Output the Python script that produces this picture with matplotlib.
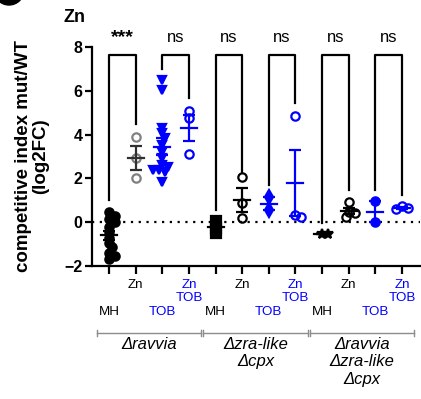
import numpy as np
import matplotlib
matplotlib.use("Agg")
import matplotlib.pyplot as plt
import matplotlib.patches as mpatches
import matplotlib.transforms as mtransforms

plt.rcParams["font.family"] = ["Liberation Sans", "DejaVu Sans"]

# DATA (log2FC mut/WT)

conditions = ["MH", "Zn", "TOB", "Zn\nTOB"] * 3
strains = ["Δravvia", "Δzra-like\nΔcpx", "Δravvia\nΔzra-like\nΔcpx"]

values = [
    [0.45, 0.3, 0.15, 0.0, -0.2, -0.45, -0.7, -0.95, -1.15, -1.4, -1.55, -1.7],
    [3.88, 2.92, 2.0],
    [6.48, 6.03, 4.29, 4.06, 3.84, 3.52, 3.2, 2.92, 2.6, 2.5, 2.4, 2.37, 2.28, 1.83],
    [5.07, 4.75, 3.1],
    [0.05, -0.25, -0.5],
    [2.05, 0.87, 0.18],
    [1.14, 0.55],
    [4.84, 0.32, 0.23],
    [-0.52, -0.55],
    [0.9, 0.45, 0.4, 0.25],
    [0.96, 0.0],
    [0.75, 0.64, 0.6],
]

pairs = [(0, 1), (2, 3), (4, 5), (6, 7), (8, 9), (10, 11)]
sig_labels = ["***", "ns", "ns", "ns", "ns", "ns"]
left_leg = [1.0, 7.0, 0.55, 1.7, -0.05, 1.46]
right_leg = [4.5, 5.66, 2.3, 5.43, 1.46, 1.23]
bracket_top = 7.63

# STYLE

BLACK = "black"
GREY = "#808080"
BLUE = "#0000ff"
colors = [BLACK, GREY, BLUE, BLUE] + [BLACK, BLACK, BLUE, BLUE] * 2
bar_colors = [BLACK, "#303030", BLUE, BLUE] + [BLACK, BLACK, BLUE, BLUE] * 2
markers = ["o", "o", "v", "o", "s", "o", "d", "o", "*", "o", "o", "o"]
filled = [True, False, True, False, True, False, True, False, True, False, True, False]
label_colors = [BLACK, BLACK, BLUE, BLUE] * 3

XLIM = (-0.64, 11.68)
YLIM = (-2, 8)
W, H = 421, 399


def swarm(vals, xpx=26.6, ypx=21.9, diam=5.0):
    """Décalages x (unités data) façon beeswarm compact."""
    vals = np.asarray(vals, dtype=float)
    offs = np.zeros(len(vals))
    placed = []
    steps = [0.0]
    for k in range(1, 15):
        steps += [k * diam * 0.6, -k * diam * 0.6]
    for i in np.argsort(vals)[::-1]:
        y = vals[i] * ypx
        for s in steps:
            if all((s - px) ** 2 + (y - py) ** 2 >= diam ** 2 for px, py in placed):
                break
        placed.append((s, y))
        offs[i] = s / xpx
    return offs


fig = plt.figure(figsize=(W / 100, H / 100), dpi=100)
ax = fig.add_axes([92 / W, (H - 266) / H, (420 - 92) / W, (266 - 47) / H])
ax.set_xlim(*XLIM)
ax.set_ylim(*YLIM)

# ligne de référence
ax.axhline(0, color="black", linestyle=(0, (1, 2.5)), linewidth=1.6, zorder=1)

for i, vals in enumerate(values):
    vals = np.asarray(vals)
    xs = i + swarm(vals)
    c = colors[i]
    ms = {"*": 7.5, "d": 7, "s": 6.5}.get(markers[i], 6)
    ax.plot(xs, vals, linestyle="none", marker=markers[i], markersize=ms,
            markerfacecolor=c if filled[i] else "none",
            markeredgecolor=c, markeredgewidth=1.6, zorder=3, clip_on=False)
    m = vals.mean()
    sem = vals.std(ddof=1) / np.sqrt(len(vals))
    bc = bar_colors[i]
    ax.plot([i - 0.3, i + 0.3], [m, m], color=bc, linewidth=1.6, zorder=4)
    ax.errorbar(i, m, yerr=sem, color=bc, capsize=4, elinewidth=1.6,
                capthick=1.6, fmt="none", zorder=4)

# crochets de significativité
for (a, b), lab, yl, yr in zip(pairs, sig_labels, left_leg, right_leg):
    ax.plot([a, a, b, b], [yl, bracket_top, bracket_top, yr], color="black",
            linewidth=1.6, clip_on=False, zorder=2)
    if lab == "***":
        ax.text((a + b) / 2, 8.05, lab, ha="center", va="bottom",
                fontsize=14, fontweight="bold", clip_on=False)
    else:
        ax.text((a + b) / 2, 8.1, lab, ha="center", va="bottom",
                fontsize=12, clip_on=False)

# axes
for side in ["top", "right"]:
    ax.spines[side].set_visible(False)
ax.spines["left"].set_linewidth(1.6)
ax.spines["bottom"].set_linewidth(1.6)
ax.set_yticks([-2, 0, 2, 4, 6, 8])
ax.tick_params(axis="y", length=5, width=1.6, labelsize=11.5, pad=2)
for t in ax.get_yticklabels():
    t.set_fontweight("bold")

ax.set_xticks(range(len(conditions)))
ticklabels = ["\n\n" + c if c in ("MH", "TOB") else c for c in conditions]
ax.set_xticklabels(ticklabels, fontsize=9.6, linespacing=1.2)
ax.tick_params(axis="x", length=6, width=1.6, pad=3)
for t, c in zip(ax.get_xticklabels(), label_colors):
    t.set_color(c)

# groupes de souches sous l'axe
trans = mtransforms.blended_transform_factory(ax.transData, ax.transAxes)
yb = -(333 - 266) / (266 - 47)
tk = 3 / (266 - 47)
for g, name in enumerate(strains):
    x0, x1 = 4 * g - 0.47, 4 * g + 3.47
    ax.plot([x0, x1], [yb, yb], color="#8c8c8c", linewidth=1.0,
            transform=trans, clip_on=False)
    for xe in (x0, x1):
        ax.plot([xe, xe], [yb - tk, yb + tk], color="#8c8c8c", linewidth=1.0,
                transform=trans, clip_on=False)
    ax.text(4 * g + 1.5, yb - 4 / (266 - 47), name, transform=trans,
            ha="center", va="top", fontsize=12, style="italic",
            linespacing=1.2, clip_on=False)

# label y et titre
fig.text(32 / W, 1 - 156 / H, "competitive index mut/WT\n(log2FC)",
         rotation=90, ha="center", va="center", fontsize=13.5,
         fontweight="bold", linespacing=1.05)
fig.text(75 / W, 1 - 18 / H, "Zn", ha="center", va="center",
         fontsize=13, fontweight="bold")

# reste de la lettre du panneau (coupée en haut à gauche)
fig.patches.append(mpatches.Ellipse((9 / W, 1 + 10 / H), 30 / W, 30 / H,
                                    color="black", transform=fig.transFigure,
                                    figure=fig))

fig.savefig("out.png", dpi=100)
